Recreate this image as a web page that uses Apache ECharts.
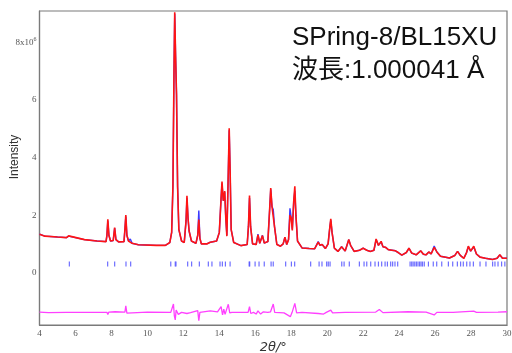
<!DOCTYPE html>
<html>
<head>
<meta charset="utf-8">
<script src="https://cdn.jsdelivr.net/npm/echarts@6/dist/echarts.min.js"></script>
<style>
html, body { margin: 0; padding: 0; background: #fff; }
#main { width: 512px; height: 353px; }
</style>
</head>
<body>
<div id="main"></div>
<script>
// 2theta grid of the observed / calculated profile (deg)
var twoTheta = [
    4.0, 4.3, 5.0, 5.5, 5.62, 5.7, 6.5, 7.2, 7.7, 7.75,
    7.8, 7.86, 7.95, 8.1, 8.18, 8.25, 8.4, 8.7, 8.75, 8.8,
    8.86, 8.95, 9.05, 9.15, 9.5, 10.5, 11.0, 11.25, 11.35, 11.42,
    11.48, 11.52, 11.57, 11.62, 11.68, 11.75, 11.9, 12.05, 12.15, 12.2,
    12.26, 12.32, 12.38, 12.45, 12.7, 12.8, 12.86, 12.92, 13.0, 13.3,
    13.5, 13.6, 13.85, 14.0, 14.1, 14.15, 14.22, 14.3, 14.36, 14.42,
    14.5, 14.55, 14.6, 14.66, 14.8, 15.2, 15.55, 15.62, 15.68, 15.74,
    15.85, 16.05, 16.15, 16.25, 16.4, 16.5, 16.7, 16.8, 16.86, 16.93,
    17.0, 17.07, 17.2, 17.4, 17.55, 17.65, 17.75, 17.85, 17.93, 18.0,
    18.06, 18.14, 18.2, 18.26, 18.35, 18.6, 19.0, 19.1, 19.3, 19.5,
    19.6, 19.72, 19.9, 20.05, 20.15, 20.2, 20.27, 20.4, 20.6, 20.8,
    21.0, 21.2, 21.3, 21.5, 21.8, 22.0, 22.2, 22.4, 22.6, 22.72,
    22.85, 23.0, 23.1, 23.25, 23.4, 23.6, 23.8, 23.95, 24.15, 24.4,
    24.55, 24.7, 24.95, 25.2, 25.35, 25.5, 25.65, 25.78, 25.95, 26.1,
    26.3, 26.8, 27.1, 27.25, 27.4, 27.6, 27.75, 27.85, 27.98, 28.15,
    28.3, 28.5, 28.8, 29.2, 29.45, 29.6, 29.75, 30.0
];
// observed intensity (x10^6)
var yObs = [
    1.34, 1.27, 1.24, 1.22, 1.28, 1.22, 1.15, 1.1, 1.08, 1.3,
    1.86, 1.3, 1.1, 1.12, 1.57, 1.15, 1.07, 1.08, 1.5, 2.0,
    1.3, 1.1, 1.16, 1.02, 0.97, 0.95, 0.95, 1.05, 1.4, 3.0,
    7.0, 9.06, 7.5, 6.2, 3.0, 1.5, 1.1, 1.05, 1.8, 2.67,
    1.9, 1.45, 1.4, 1.1, 1.02, 1.3, 1.85, 1.2, 1.0, 1.0,
    1.06, 1.02, 1.1, 1.4, 2.6, 3.17, 2.5, 2.84, 1.9, 1.27,
    3.5, 5.02, 3.6, 1.5, 1.05, 0.94, 0.98, 1.6, 2.68, 1.6,
    1.0, 0.98, 1.31, 1.02, 1.29, 1.03, 1.08, 2.2, 2.94, 2.3,
    2.3, 1.6, 0.98, 0.92, 1.0, 1.23, 0.98, 1.15, 2.0, 1.9,
    1.47, 2.5, 3.0, 2.0, 1.1, 0.86, 0.84, 0.87, 0.83, 1.06,
    0.95, 0.98, 0.84, 1.0, 1.6, 1.87, 1.4, 0.85, 0.74, 0.9,
    0.75, 1.15, 0.95, 0.74, 0.78, 0.85, 0.78, 0.74, 0.78, 1.17,
    0.95, 1.09, 0.9, 0.88, 0.8, 0.78, 0.76, 0.7, 0.61, 0.7,
    0.85, 0.68, 0.62, 0.76, 0.64, 0.62, 0.72, 0.65, 0.88, 0.72,
    0.57, 0.51, 0.6, 0.74, 0.6, 0.5, 0.7, 0.92, 0.75, 0.92,
    0.65, 0.54, 0.5, 0.46, 0.5, 0.62, 0.5, 0.5
];
// calculated intensity (x10^6)
var yCalc = [
    1.34, 1.27, 1.24, 1.22, 1.27, 1.22, 1.15, 1.1, 1.08, 1.3,
    1.8, 1.3, 1.1, 1.12, 1.55, 1.15, 1.07, 1.08, 1.5, 1.95,
    1.3, 1.1, 1.17, 1.02, 0.97, 0.95, 0.95, 1.05, 1.4, 3.0,
    7.0, 9.0, 7.5, 6.2, 3.0, 1.5, 1.1, 1.05, 1.8, 2.6,
    1.9, 1.45, 1.4, 1.1, 1.02, 1.3, 2.16, 1.2, 1.0, 1.0,
    1.06, 1.02, 1.1, 1.4, 2.6, 3.1, 2.5, 2.8, 1.9, 1.3,
    3.5, 4.95, 3.6, 1.5, 1.05, 0.94, 0.98, 1.6, 2.6, 1.6,
    1.0, 0.98, 1.34, 1.02, 1.3, 1.03, 1.08, 2.2, 2.9, 2.3,
    2.2, 1.6, 0.98, 0.92, 1.0, 1.23, 0.98, 1.15, 2.24, 1.9,
    1.5, 2.5, 2.85, 2.0, 1.1, 0.86, 0.84, 0.88, 0.83, 1.08,
    0.95, 0.98, 0.84, 1.0, 1.6, 1.82, 1.4, 0.85, 0.74, 0.9,
    0.75, 1.15, 0.95, 0.74, 0.78, 0.85, 0.78, 0.74, 0.78, 1.15,
    0.95, 1.07, 0.9, 0.88, 0.8, 0.78, 0.76, 0.7, 0.61, 0.7,
    0.85, 0.68, 0.62, 0.76, 0.64, 0.62, 0.72, 0.65, 0.93, 0.72,
    0.57, 0.51, 0.6, 0.74, 0.6, 0.5, 0.7, 0.9, 0.75, 0.9,
    0.65, 0.54, 0.5, 0.46, 0.5, 0.62, 0.5, 0.5
];
// difference curve (obs - calc, offset)
var diffX = [
    4.0, 4.5, 5.5, 7.0, 7.75, 7.8, 7.86, 8.2, 8.3, 8.75,
    8.8, 8.86, 8.95, 10.0, 11.3, 11.45, 11.5, 11.55, 11.6, 11.65,
    11.72, 11.9, 12.2, 12.3, 12.4, 12.8, 12.86, 12.92, 13.5, 13.9,
    14.1, 14.18, 14.25, 14.32, 14.42, 14.5, 14.58, 14.7, 15.6, 15.68,
    15.75, 15.9, 16.05, 16.15, 16.3, 16.45, 16.7, 16.85, 17.0, 17.08,
    17.6, 17.95, 18.05, 18.2, 18.3, 18.6, 19.5, 19.6, 19.8, 19.95,
    20.2, 20.3, 21.0, 22.7, 22.9, 23.1, 24.5, 25.5, 25.95, 26.1,
    27.0, 28.15, 28.3, 29.5, 30.0
];
var diffY = [
    -1.37, -1.39, -1.38, -1.38, -1.38, -1.45, -1.37, -1.36, -1.38, -1.37,
    -1.15, -1.41, -1.37, -1.37, -1.38, -1.09, -1.5, -1.64, -1.3, -1.29,
    -1.45, -1.38, -1.42, -1.47, -1.39, -1.32, -1.67, -1.38, -1.33, -1.36,
    -1.18, -1.47, -1.27, -1.45, -1.25, -1.1, -1.4, -1.38, -1.38, -1.18,
    -1.42, -1.38, -1.44, -1.33, -1.44, -1.36, -1.38, -1.36, -1.09, -1.38,
    -1.4, -1.53, -1.38, -1.07, -1.4, -1.38, -1.42, -1.36, -1.44, -1.38,
    -1.3, -1.4, -1.38, -1.37, -1.28, -1.39, -1.36, -1.37, -1.47, -1.38,
    -1.38, -1.34, -1.38, -1.37, -1.36
];
// Bragg reflection positions (deg)
var reflections = [
    5.66, 7.79, 8.18, 8.81, 9.07, 11.30, 11.55, 11.59, 12.24, 12.46,
    12.89, 13.39, 13.59, 14.04, 14.17, 14.34, 14.6, 15.66, 15.69, 15.99,
    16.21, 16.5, 16.88, 17.0, 17.69, 18.01, 18.19, 19.08, 19.55, 19.71,
    19.97, 20.06, 20.16, 20.81, 20.94, 21.23, 21.79, 22.05, 22.2, 22.42,
    22.66, 22.85, 23.03, 23.22, 23.35, 23.53, 23.64, 23.77, 23.92, 24.61,
    24.7, 24.78, 24.87, 24.96, 25.05, 25.14, 25.22, 25.3, 25.4, 25.63,
    25.9, 26.09, 26.37, 26.74, 26.98, 27.24, 27.42, 27.57, 27.76, 27.94,
    28.13, 28.5, 28.83, 29.2, 29.33, 29.5, 29.7, 29.88
];
var tickRow = 0.3;
var yTicks = [0, 2, 4, 6, 8];

function zip(xs, ys) {
    var out = [];
    for (var i = 0; i < xs.length; i++) {
        out.push([xs[i], ys[i]]);
    }
    return out;
}

var chart = echarts.init(document.getElementById('main'));
var serif = "'Liberation Serif', 'DejaVu Serif', serif";
var headFont = "'Liberation Sans', 'Noto Sans CJK JP', sans-serif";

var option = {
    animation: false,
    grid: {
        left: 39.5, right: 5, top: 11, bottom: 28,
        outerBoundsMode: 'none', containLabel: false,
        show: true, borderColor: '#7a7a7a', borderWidth: 1.2
    },
    xAxis: {
        type: 'value', min: 4, max: 30, interval: 2,
        name: '2θ/°', nameLocation: 'middle', nameGap: 16, nameMoveOverlap: false,
        nameTextStyle: { fontFamily: "'DejaVu Sans', sans-serif", fontSize: 13, fontStyle: 'italic', color: '#333' },
        axisLine: { onZero: false, lineStyle: { color: '#7a7a7a', width: 1.2 } },
        axisTick: { show: false },
        axisLabel: { fontFamily: serif, fontSize: 9, color: '#555', margin: 4 },
        splitLine: { show: false }
    },
    yAxis: {
        type: 'value', min: -1.82, max: 9.1,
        axisLine: { onZero: false, lineStyle: { color: '#7a7a7a', width: 1.2 } },
        axisTick: { show: false, customValues: yTicks },
        axisLabel: {
            fontFamily: serif, fontSize: 9, color: '#555', margin: 3,
            customValues: yTicks,
            formatter: function (v) {
                return v === 8 ? '{a|8x10}{b|6}' : '' + v;
            },
            rich: {
                a: { fontFamily: serif, fontSize: 9, color: '#555' },
                b: { fontFamily: serif, fontSize: 6, color: '#555', verticalAlign: 'top', padding: [0, 0, 6, 0] }
            }
        },
        splitLine: { show: false }
    },
    graphic: [
        {
            type: 'text', x: 15, y: 157, rotation: Math.PI / 2,
            style: {
                text: 'Intensity', fontFamily: "'Liberation Sans', Arial, sans-serif", fontSize: 12,
                fill: '#333', align: 'center', verticalAlign: 'middle'
            }
        },
        {
            type: 'text', left: 292, top: 25,
            style: { text: 'SPring-8/BL15XU', fontFamily: headFont, fontSize: 26, fill: '#111' }
        },
        {
            type: 'text', left: 292, top: 58,
            style: { text: '波長:1.000041 Å', fontFamily: headFont, fontSize: 26, fill: '#111' }
        }
    ],
    series: [
        {
            name: 'calc', type: 'line', data: zip(twoTheta, yCalc),
            showSymbol: false, z: 2,
            lineStyle: { color: '#3a3aff', width: 1.4 }
        },
        {
            name: 'obs', type: 'line', data: zip(twoTheta, yObs),
            showSymbol: false, z: 3,
            lineStyle: { color: '#ff1414', width: 1.6 }
        },
        {
            name: 'diff', type: 'line', data: zip(diffX, diffY),
            showSymbol: false, z: 3,
            lineStyle: { color: '#ff40ff', width: 1.3 }
        },
        {
            name: 'reflections', type: 'scatter',
            data: reflections.map(function (r) { return [r, tickRow]; }),
            symbol: 'rect', symbolSize: [1.2, 5], z: 4,
            itemStyle: { color: '#4a4aff' }
        }
    ]
};
chart.setOption(option);
</script>
</body>
</html>
